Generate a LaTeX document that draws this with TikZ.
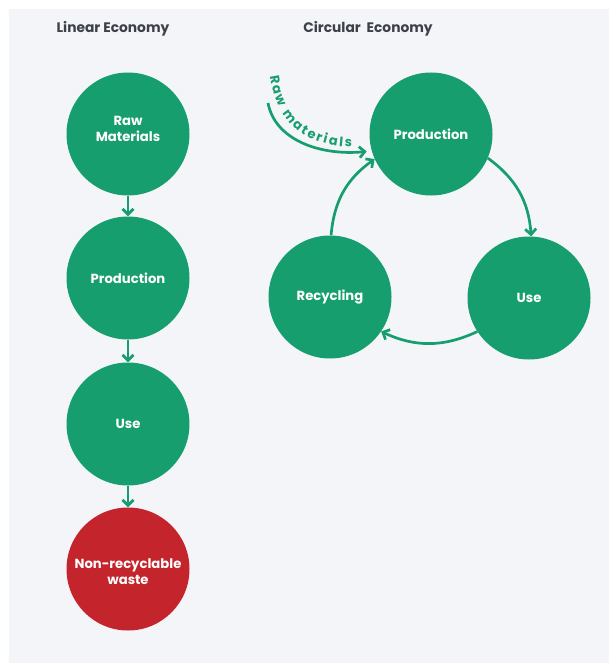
\documentclass[tikz,border=0pt]{standalone}
\usepackage{fontspec}
\setmainfont{Poppins}
\usetikzlibrary{arrows.meta,decorations.text}
\definecolor{cgreen}{RGB}{22,158,110}
\definecolor{cred}{RGB}{196,36,43}
\definecolor{panel}{RGB}{244,245,249}
\definecolor{titlec}{RGB}{60,64,72}
\begin{document}
\begin{tikzpicture}[x=1pt,y=-1pt,
  circ/.style={circle, fill=cgreen, minimum size=123pt, inner sep=0pt, text=white,
    font=\bfseries\fontsize{13.2}{16}\selectfont, align=center},
  arr/.style={draw=cgreen, line width=2.7pt, -{Straight Barb[length=5.5pt,width=11pt]}},
  title/.style={text=titlec, font=\bfseries\fontsize{13.8}{16}\selectfont}]
\useasboundingbox (0,0) rectangle (609,663);
\fill[white] (0,0) rectangle (609,663);
\fill[panel] (9,9) rectangle (609,663);
% titles
\node[title] (t1) at (113,29) {Linear Economy};
\node[title] (t2) at (368,29) {Circular\ \ Economy};
% linear economy
\node[circ] (raw) at (128,134) {};
\node[circ] (lprod) at (128,278) {Production};
\node[circ] (luse) at (128,424) {Use};
\node[circ, fill=cred] (waste) at (128,569) {};
\node[circ, minimum size=0pt, fill=none] (rawlbl) at (128,129) {Raw\\Materials};
\node[circ, minimum size=0pt, fill=none] (wastelbl) at (128,572) {Non-recyclable\\waste};
\draw[arr] (raw) -- (lprod);
\draw[arr] (lprod) -- (luse);
\draw[arr] (luse) -- (waste);
% circular economy
\node[circ] (cprod) at (431,134) {Production};
\node[circ] (crec) at (330,297) {Recycling};
\node[circ] (cuse) at (529,298) {Use};
\draw[arr] (cprod.-23) to[bend left=25] (cuse.88);
\draw[arr] (cuse.-147) to[bend left=25] (crec.-34);
\draw[arr] (crec.89) to[bend left=25] (cprod.204);
% raw materials input
\coordinate (rmstart) at (268,103);
\draw[arr, shorten >=5pt] (rmstart) .. controls (275,140) and (320,156) .. (cprod.196);
\path[font=\bfseries\fontsize{13}{15}\selectfont, decorate,
  decoration={text along path, text align=fit to path,
  text color=cgreen,
  text={|\bfseries\fontsize{13}{15}\selectfont|Raw materials}}]
  (270,76) .. controls (277,124) and (305,146) .. (352,147);
\end{tikzpicture}
\end{document}
